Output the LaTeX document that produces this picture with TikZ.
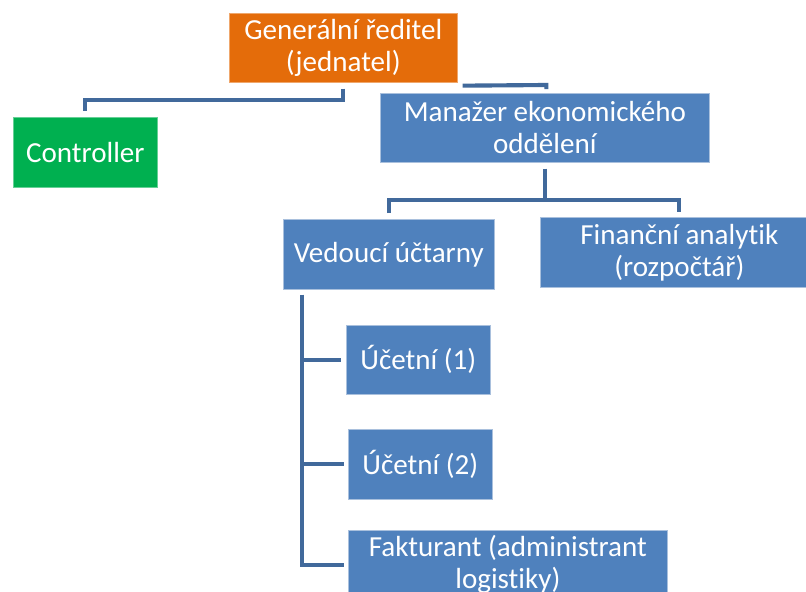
\documentclass[tikz,border=0pt]{standalone}
\usepackage{fontspec}
\setmainfont{Carlito}[Ligatures=NoCommon]
\usetikzlibrary{calc}
\definecolor{orangebox}{HTML}{E46C0A}
\definecolor{greenbox}{HTML}{00B050}
\definecolor{bluebox}{HTML}{4F81BD}
\definecolor{bluerim}{HTML}{A9C0DD}
\definecolor{conn}{HTML}{41699B}
\tikzset{
  orgbox/.style={rectangle, anchor=north west, inner sep=0pt, align=center,
    text=white, draw=bluerim, line width=0.5pt,
    font=\fontsize{21.8pt}{24pt}\selectfont},
  bluenode/.style={orgbox, fill=bluebox},
  link/.style={draw=conn, line width=3.1pt, line cap=butt, line join=miter}
}
\begin{document}
\begin{tikzpicture}[x=0.75pt,y=-0.75pt]
\useasboundingbox (0,0) rectangle (806,592);
\clip (0,0) rectangle (806,592);
\fill[white] (0,0) rectangle (806,592);

\node[orgbox, fill=orangebox, draw=orangebox!60!white, minimum width=228*0.75pt, minimum height=69*0.75pt] (gen) at (229,13) {Generální ředitel\\(jednatel)};
\node[orgbox, fill=greenbox, draw=greenbox!60!white, minimum width=144*0.75pt, minimum height=70*0.75pt] (ctrl) at (13,117) {Controller};
\node[bluenode, minimum width=329*0.75pt, minimum height=69*0.75pt] (man) at (380,93) {Manažer ekonomického\\oddělení};
\node[bluenode, minimum width=211*0.75pt, minimum height=70*0.75pt] (ved) at (283,219) {Vedoucí účtarny};
\node[bluenode, minimum width=278*0.75pt, minimum height=70*0.75pt] (fin) at (540,217) {Finanční analytik\\(rozpočtář)};
\node[bluenode, minimum width=144*0.75pt, minimum height=69*0.75pt] (uc1) at (346,325) {Účetní (1)};
\node[bluenode, minimum width=144*0.75pt, minimum height=70*0.75pt] (uc2) at (348,429) {Účetní (2)};
\node[bluenode, minimum width=319*0.75pt, minimum height=70*0.75pt] (fak) at (348,529.5) {Fakturant (administrant\\logistiky)};

% General director -> Controller
\draw[link] ($(gen.south)+(0,6)$) -- ++(0,11) -| ($(ctrl.north)+(0,-6)$);
% General director -> Manager
\draw[link] ($(gen.south east)+(5,3)$) -- ($(man.north)+(1.5,-8)$) -- ($(man.north)+(1.5,-4)$);
% Manager -> children
\coordinate (mj) at ($(man.south)+(0,37)$);
\draw[link] ($(man.south)+(0,6)$) -- (mj);
\draw[link] ($(ved.north)+(0,-6)$) |- (mj) -| ($(fin.north)+(0,-5)$);
% Head of accounting -> subordinates
\coordinate (vs) at ($(ved.south west)+(19,5)$);
\draw[link] (vs) |- ($(fak.west)+(-4,0)$);
\draw[link] ($(vs |- uc1.west)$) -- ($(uc1.west)+(-5,0)$);
\draw[link] ($(vs |- uc2.west)$) -- ($(uc2.west)+(-4,0)$);
\end{tikzpicture}
\end{document}
